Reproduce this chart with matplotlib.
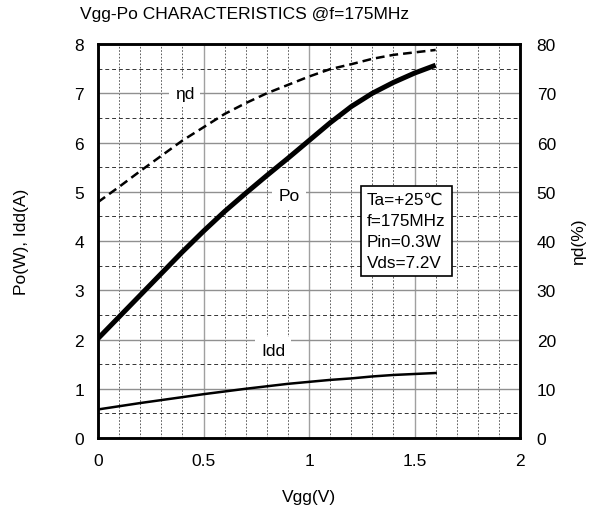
import matplotlib
matplotlib.use("Agg")
import matplotlib.pyplot as plt
from matplotlib.ticker import MultipleLocator, FuncFormatter

plt.rcParams['font.family'] = ['Liberation Sans', 'DejaVu Sans']

# data
vgg = [0.0, 0.1, 0.2, 0.3, 0.4, 0.5, 0.6, 0.7, 0.8, 0.9, 1.0, 1.1, 1.2, 1.3, 1.4, 1.5, 1.6]
po = [2.02, 2.46, 2.90, 3.34, 3.78, 4.20, 4.60, 4.97, 5.33, 5.68, 6.04, 6.40, 6.73, 7.00, 7.22, 7.41, 7.57]
idd = [0.58, 0.645, 0.71, 0.77, 0.83, 0.89, 0.945, 1.00, 1.05, 1.10, 1.14, 1.18, 1.21, 1.25, 1.28, 1.30, 1.32]
eta = [47.9, 51.0, 54.2, 57.3, 60.4, 63.1, 65.8, 68.0, 70.0, 71.7, 73.4, 74.9, 75.9, 77.0, 77.8, 78.3, 78.8]

cond_lines = ["Ta=+25\u2103", "f=175MHz", "Pin=0.3W", "Vds=7.2V"]

fig = plt.figure(figsize=(5.89, 5.10), dpi=100)
ax = fig.add_axes([0.1664, 0.1392, 0.7165, 0.7725])
ax2 = ax.twinx()

ax.set_xlim(0, 2)
ax.set_ylim(0, 8)
ax2.set_ylim(0, 80)

ax.xaxis.set_major_locator(MultipleLocator(0.5))
ax.xaxis.set_minor_locator(MultipleLocator(0.1))
ax.yaxis.set_major_locator(MultipleLocator(1))
ax.yaxis.set_minor_locator(MultipleLocator(0.5))
ax2.yaxis.set_major_locator(MultipleLocator(10))
ax.xaxis.set_major_formatter(FuncFormatter(lambda v, p: "%g" % v))

ax.xaxis.grid(which='major', color='#a0a0a0', lw=1.0, ls='-')
ax.yaxis.grid(which='major', color='#909090', lw=1.0, ls='-')
ax.xaxis.grid(which='minor', color='#444444', lw=0.6, ls=(0, (2, 2)))
ax.yaxis.grid(which='minor', color='#333333', lw=0.7, ls=(0, (4, 3)))
ax.set_axisbelow(True)

ax.tick_params(which='both', length=0, labelsize=12.5)
ax.tick_params(axis='x', pad=11)
ax.tick_params(axis='y', pad=10)
ax2.tick_params(which='both', length=0, labelsize=12.5, pad=12)

for a in (ax, ax2):
    for s in a.spines.values():
        s.set_linewidth(1.8)
        s.set_color('black')

ax.plot(vgg, po, color='black', lw=3.6, solid_capstyle='butt')
ax.plot(vgg, idd, color='black', lw=1.8)
ax2.plot(vgg, eta, color='black', lw=1.8, ls=(0, (3.5, 2)))

box = dict(boxstyle='square,pad=0.35', fc='white', ec='none')
ax.text(0.41, 7.0, "\u03b7d", fontsize=12.5, ha='center', va='center', bbox=box, zorder=3)
ax.text(0.905, 4.93, "Po", fontsize=12.5, ha='center', va='center', bbox=box, zorder=3)
ax.text(0.83, 1.78, "Idd", fontsize=12.5, ha='center', va='center', bbox=box, zorder=3)

ax.text(1.275, 5.0, "\n".join(cond_lines), fontsize=12.3, ha='left', va='top',
        linespacing=1.5, zorder=4,
        bbox=dict(boxstyle='square,pad=0.35', fc='white', ec='black', lw=1.2))

fig.text(80 / 589, 1 - 14 / 510, "Vgg-Po CHARACTERISTICS @f=175MHz", fontsize=12.5,
         ha='left', va='center')
ax.set_xlabel("Vgg(V)", fontsize=12.5, labelpad=15)
ax.set_ylabel("Po(W), Idd(A)", fontsize=12.5, labelpad=33)
ax2.set_ylabel("\u03b7d(%)", fontsize=12.5, labelpad=11)

fig.savefig("out.png", dpi=100)
